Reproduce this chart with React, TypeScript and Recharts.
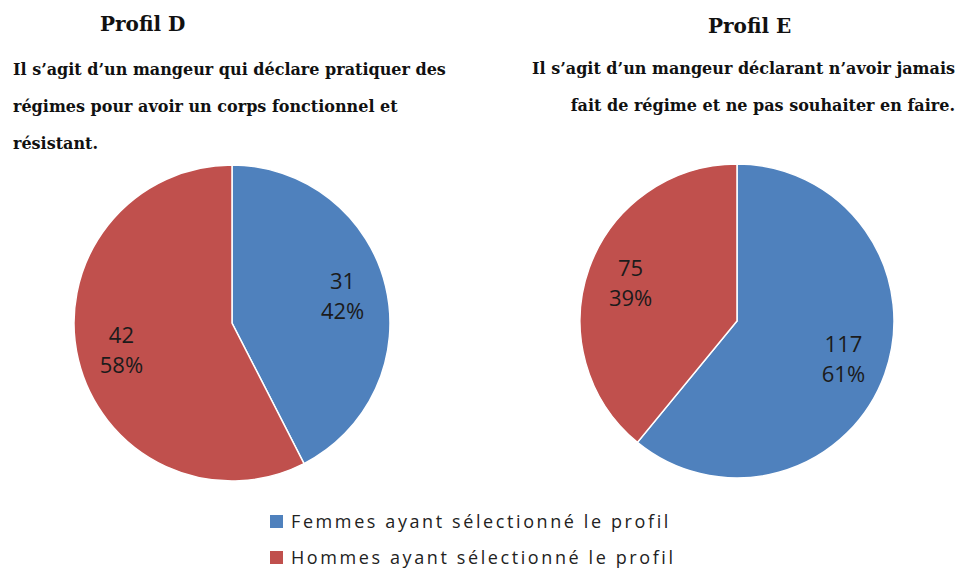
import { PieChart, Pie, Cell, Legend } from "recharts";

const categories = ["Femmes ayant sélectionné le profil", "Hommes ayant sélectionné le profil"];
const profilDValues = [31, 42];
const profilEValues = [117, 75];
const COLORS = ["#4F81BD", "#C0504D"];

const titles = ["Profil D", "Profil E"];
const profilDText = [
  "Il s’agit d’un mangeur qui déclare pratiquer des",
  "régimes pour avoir un corps fonctionnel et",
  "résistant.",
];
const profilEText = [
  "Il s’agit d’un mangeur déclarant n’avoir jamais",
  "fait de régime et ne pas souhaiter en faire.",
];

const toData = (values: number[]) => values.map((v, i) => ({ name: categories[i], value: v }));

const RADIAN = Math.PI / 180;
const serif = "'DejaVu Serif', serif";

function renderLabel(props: any) {
  const { cx, cy, midAngle, outerRadius, value, percent } = props;
  const r = outerRadius * 0.72;
  const x = cx + r * Math.cos(-midAngle * RADIAN);
  const y = cy + r * Math.sin(-midAngle * RADIAN);
  return (
    <text x={x} y={y} textAnchor="middle" fill="#1b1b1b" fontSize={22} fontFamily="'Open Sans', sans-serif">
      <tspan x={x} dy={-7}>{value}</tspan>
      <tspan x={x} dy={30}>{Math.round(percent * 100)}%</tspan>
    </text>
  );
}

function LegendBox() {
  return (
    <div style={{ fontFamily: "'Open Sans', sans-serif", fontSize: 18, color: "#222", letterSpacing: 2.6 }}>
      {categories.map((c, i) => (
        <div key={c} style={{ display: "flex", alignItems: "center", height: 36, whiteSpace: "nowrap" }}>
          <span style={{ width: 13, height: 13, background: COLORS[i], display: "inline-block", marginRight: 8 }} />
          {c}
        </div>
      ))}
    </div>
  );
}

export default function App() {
  const textStyle = { position: "absolute" as const, fontFamily: serif, fontWeight: 700, color: "#111", whiteSpace: "nowrap" as const };
  return (
    <div style={{ position: "absolute", left: 0, top: 0, width: 962, height: 574, background: "#fff" }}>
      <PieChart width={962} height={574} margin={{ top: 0, right: 0, bottom: 0, left: 0 }}>
        <Pie data={toData(profilDValues)} dataKey="value" nameKey="name" cx={232} cy={323} outerRadius={158}
          startAngle={90} endAngle={-270} stroke="#fff" strokeWidth={1.5} label={renderLabel} labelLine={false}
          isAnimationActive={false}>
          {profilDValues.map((_, i) => <Cell key={i} fill={COLORS[i]} />)}
        </Pie>
        <Pie data={toData(profilEValues)} dataKey="value" nameKey="name" cx={737} cy={321} outerRadius={157}
          startAngle={90} endAngle={-270} stroke="#fff" strokeWidth={1.5} label={renderLabel} labelLine={false}
          isAnimationActive={false}>
          {profilEValues.map((_, i) => <Cell key={i} fill={COLORS[i]} />)}
        </Pie>
        <Legend content={() => <LegendBox />} wrapperStyle={{ position: "absolute", left: 270, top: 503, width: 460, bottom: "auto" }} />
      </PieChart>
      <div style={{ ...textStyle, left: 100, top: 12, fontSize: 20 }}>{titles[0]}</div>
      <div style={{ ...textStyle, left: 708, top: 14, fontSize: 20 }}>{titles[1]}</div>
      {profilDText.map((t, i) => (
        <div key={t} style={{ ...textStyle, left: 13, top: 60 + i * 37, fontSize: 16 }}>{t}</div>
      ))}
      {profilEText.map((t, i) => (
        <div key={t} style={{ ...textStyle, right: 7, top: 59 + i * 37, fontSize: 16 }}>{t}</div>
      ))}
    </div>
  );
}
